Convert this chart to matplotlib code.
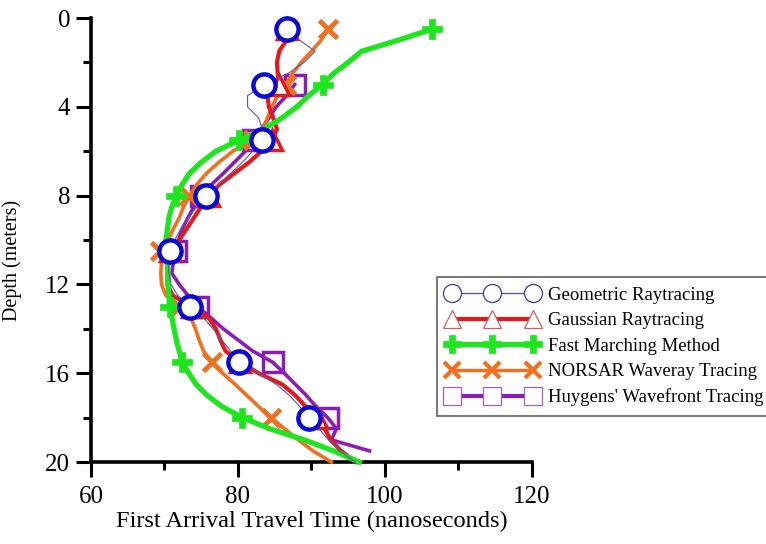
import matplotlib
matplotlib.use("Agg")
import matplotlib.pyplot as plt
from matplotlib.lines import Line2D
from matplotlib.ticker import MultipleLocator

plt.rcParams['font.family'] = ['Liberation Serif', 'DejaVu Serif']

# ---------------- data ----------------
depth = [0.5, 1.0, 1.5, 2.0, 2.5, 3.0, 3.5, 4.0, 4.5, 5.0,
         5.5, 6.0, 6.5, 7.0, 7.5, 8.0, 8.5, 9.0, 9.5, 10.0,
         10.5, 11.0, 11.5, 12.0, 12.5, 13.0, 13.5, 14.0, 14.5, 15.0,
         15.5, 16.0, 16.5, 17.0, 17.5, 18.0, 18.5, 19.0, 19.5, 20.0]
marker_depths = [0.5, 3.0, 5.5, 8.0, 10.5, 13.0, 15.5, 18.0]

geometric = [86.7, 88.4, 90.5, 89.0, 86.8, 83.5, 81.3, 81.3, 82.8, 83.3,
             83.2, 82.0, 80.6, 79.0, 77.3, 75.7, 74.4, 73.3, 72.2, 71.4,
             70.8, 70.6, 70.6, 70.9, 71.8, 73.5, 75.3, 76.6, 77.8, 79.0,
             80.2, 82.8, 85.2, 87.0, 88.4, 89.7, 91.0, 92.3, 93.8, 96.0]
gaussian = [86.7, 86.6, 85.6, 85.3, 85.4, 85.6, 84.0, 84.2, 84.8, 85.3,
            84.6, 83.2, 81.5, 79.5, 77.5, 76.0, 75.0, 74.0, 73.0, 72.0,
            70.8, 70.4, 70.4, 70.4, 71.1, 73.8, 76.0, 77.0, 77.6, 78.3,
            80.3, 82.8, 86.0, 87.8, 89.2, 90.8, 91.8, 92.6, 94.0, 96.1]
fast_marching = [106.4, 101.8, 96.8, 95.0, 93.0, 91.5, 89.6, 88.0, 86.0, 83.5,
                 80.2, 77.0, 75.0, 73.4, 72.4, 71.6, 71.0, 70.6, 70.4, 70.2,
                 70.3, 70.4, 70.5, 70.5, 70.6, 70.7, 71.0, 71.3, 71.6, 72.0,
                 72.4, 73.3, 74.3, 75.8, 77.8, 80.6, 84.3, 89.0, 93.0, 96.5]
norsar = [92.2, 91.3, 90.0, 88.6, 87.4, 86.5, 85.4, 84.6, 84.0, 83.4,
          82.0, 79.3, 77.4, 75.7, 74.4, 73.4, 72.6, 72.0, 71.2, 70.5,
          69.4, 69.6, 69.5, 69.6, 70.2, 72.0, 73.6, 74.2, 74.7, 75.3,
          76.4, 77.9, 79.6, 81.2, 82.8, 84.5, 86.3, 88.2, 90.2, 92.7]
huygens_depth = [3.0, 3.5, 4.0, 4.5, 5.0, 5.5, 6.0, 6.5, 7.0, 7.5,
                 8.0, 8.5, 9.0, 9.5, 10.0, 10.5, 11.0, 11.5, 12.0, 12.5,
                 13.0, 13.5, 14.0, 14.5, 15.0, 15.5, 16.0, 16.5, 17.0, 17.5,
                 18.0, 18.5, 19.0, 19.5]
huygens = [87.7, 86.6, 85.2, 84.2, 83.2, 82.0, 81.0, 79.5, 78.0, 76.4,
           75.0, 74.0, 73.2, 72.4, 71.9, 71.6, 71.2, 71.0, 72.0, 73.2,
           74.5, 76.3, 78.0, 80.0, 82.0, 84.7, 86.3, 87.8, 89.3, 90.6,
           92.2, 93.4, 92.7, 97.9]

labels = ["Geometric Raytracing", "Gaussian Raytracing", "Fast Marching Method",
          "NORSAR Waveray Tracing", "Huygens' Wavefront Tracing"]
x_ticks = [60, 80, 100, 120]
y_ticks = [0, 4, 8, 12, 16, 20]

# ---------------- styles ----------------
C_GEO_LINE = '#5a5aa8'
C_GEO = '#0a0ad2'
C_RED = '#e41a1a'
C_GREEN = '#1ee61e'
C_ORANGE = '#f07020'
C_PURPLE = '#8a1cb8'


def mk_idx(dlist):
    return [i for i, d in enumerate(dlist) if d in marker_depths]


fig = plt.figure(figsize=(7.66, 5.44), dpi=100)
ax = fig.add_axes([0.1188, 0.1507, 0.5757, 0.8162])

ax.plot(huygens, huygens_depth, color=C_PURPLE, lw=2.6, marker='s', ms=15,
        mfc='none', mec=C_PURPLE, mew=2.5, markevery=mk_idx(huygens_depth),
        clip_on=False, zorder=3)
ax.plot(norsar, depth, color=C_ORANGE, lw=2.6, marker='x', ms=13,
        mec=C_ORANGE, mew=3.5, markevery=mk_idx(depth), clip_on=False, zorder=4)
ax.plot(gaussian, depth, color=C_RED, lw=3.0, marker='^', ms=14,
        mfc='white', mec=C_RED, mew=2.5, markevery=mk_idx(depth),
        clip_on=False, zorder=5)
ax.plot(fast_marching, depth, color=C_GREEN, lw=3.8, marker='P', ms=15,
        mfc=C_GREEN, mec=C_GREEN, mew=0.5, markevery=mk_idx(depth),
        clip_on=False, zorder=6)
ax.plot(geometric, depth, color=C_GEO_LINE, lw=0.8, zorder=7, clip_on=False)
ax.plot(geometric, depth, color='none', lw=0, marker='o', ms=16,
        mfc='white', mec=C_GEO, mew=3.2, markevery=mk_idx(depth),
        clip_on=False, zorder=8)

ax.set_xlim(60, 120)
ax.set_ylim(20, 0)
ax.set_xticks(x_ticks)
ax.set_yticks(y_ticks)
ax.xaxis.set_minor_locator(MultipleLocator(10))
ax.yaxis.set_minor_locator(MultipleLocator(2))
ax.tick_params(which='major', direction='out', length=11, width=2.2,
               labelsize=18, pad=4)
ax.tick_params(axis='x', which='major', pad=6.5)
ax.tick_params(which='minor', direction='out', length=6, width=2.2)
for s in ['top', 'right']:
    ax.spines[s].set_visible(False)
for s in ['left', 'bottom']:
    ax.spines[s].set_linewidth(2.6)

ax.set_xlabel("First Arrival Travel Time (nanoseconds)", fontsize=17.6, labelpad=2)
ax.set_ylabel("Depth (meters)", fontsize=14.5)
ax.yaxis.set_label_coords(-0.156, 0.455)

handles = [
    Line2D([], [], color=C_GEO_LINE, lw=1.0, marker='o', ms=13, mfc='white',
           mec='#3c3ca0', mew=0.9),
    Line2D([], [], color=C_RED, lw=3.0, marker='^', ms=13, mfc='white',
           mec='#d06060', mew=0.9),
    Line2D([], [], color=C_GREEN, lw=3.8, marker='P', ms=13, mfc=C_GREEN,
           mec=C_GREEN, mew=0.5),
    Line2D([], [], color=C_ORANGE, lw=2.5, marker='x', ms=11, mec=C_ORANGE,
           mew=3.0),
    Line2D([], [], color=C_PURPLE, lw=3.0, marker='s', ms=13, mfc='white',
           mec='#a060c0', mew=0.9),
]
leg = fig.legend(handles, labels, loc='upper left',
                 bbox_to_anchor=(437 / 766, 1 - 277 / 544),
                 fontsize=13.5, numpoints=3, handlelength=4.9,
                 handletextpad=0.5, labelspacing=0.45, borderpad=0.5,
                 fancybox=False, framealpha=1, edgecolor='#606060',
                 borderaxespad=0)
leg.get_frame().set_linewidth(1.2)

fig.savefig("out.png", dpi=100)
